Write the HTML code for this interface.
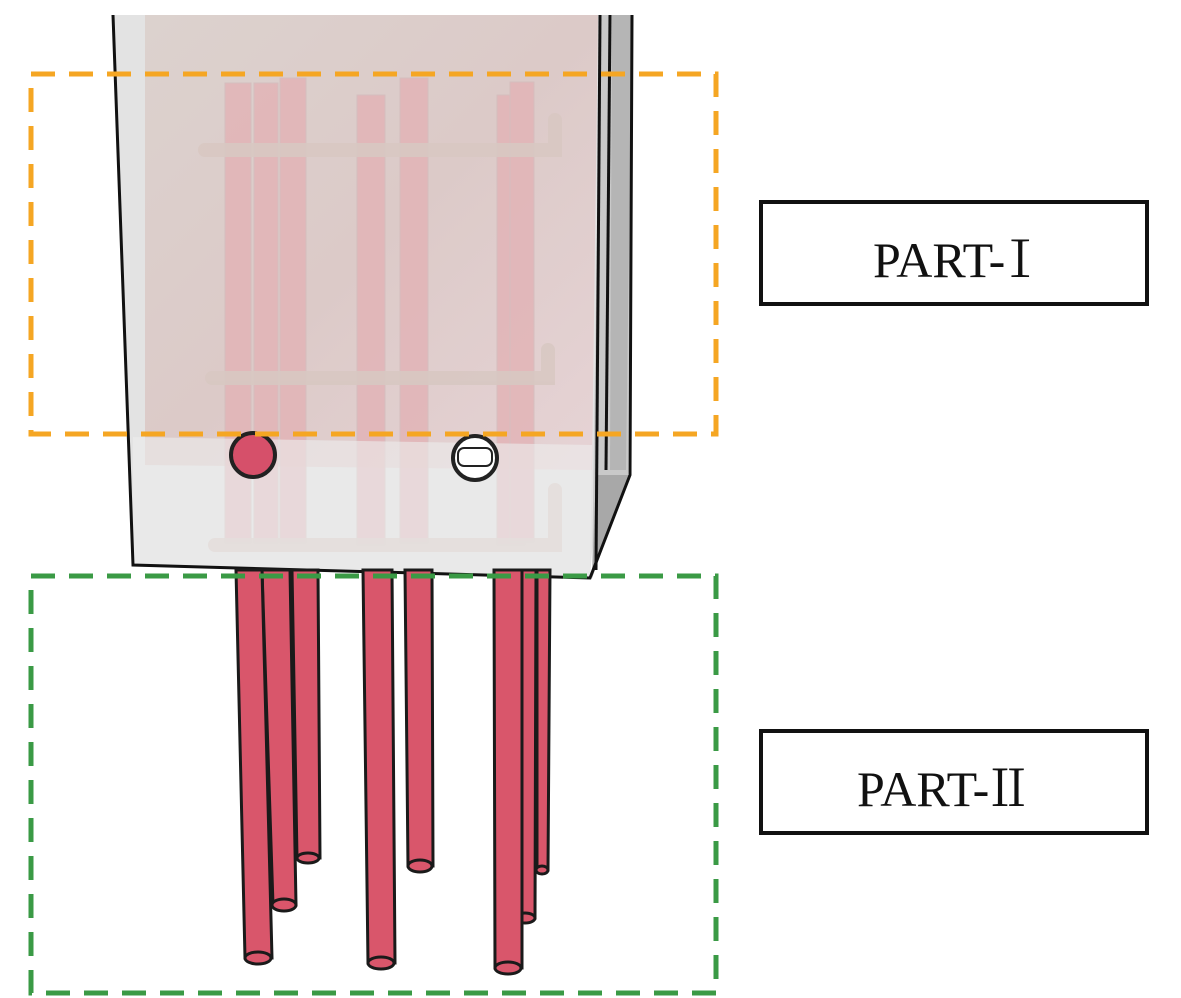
<!DOCTYPE html>
<html><head><meta charset="utf-8"><style>
html,body{margin:0;padding:0;background:#fff;width:1181px;height:998px;overflow:hidden}
</style></head><body>
<svg width="1181" height="998" viewBox="0 0 1181 998" xmlns="http://www.w3.org/2000/svg">
<defs>
<linearGradient id="pk" x1="0" y1="0" x2="1" y2="1">
<stop offset="0" stop-color="#dcd2ce"/><stop offset="0.5" stop-color="#dccac8"/><stop offset="1" stop-color="#e6d3d5"/>
</linearGradient>
</defs>
<polygon points="113,15 604,15 598,475 590,578 133,565" fill="#e3e3e3"/>
<polygon points="145,15 598,15 592,470 145,465" fill="url(#pk)"/>
<g fill="#e2b4b7" stroke="#d4bcbc" stroke-width="1" opacity="0.85">
<rect x="225" y="83" width="26" height="460"/>
<rect x="254" y="83" width="24" height="460"/>
<rect x="280" y="78" width="26" height="465"/>
<rect x="357" y="95" width="28" height="450"/>
<rect x="400" y="78" width="28" height="465"/>
<rect x="497" y="95" width="28" height="450"/>
<rect x="510" y="82" width="24" height="460"/>
</g>
<g fill="none" stroke="#d8c8c2" stroke-width="14" stroke-linecap="round" opacity="0.9">
<path d="M205,150 L555,150 L555,120"/>
<path d="M212,378 L548,378 L548,350"/>
<path d="M215,545 L555,545 L555,490"/>
</g>
<polygon points="133,437 592,445 590,578 133,565" fill="#ececec" opacity="0.6"/>
<polygon points="600,15 632,15 628,475 592,578" fill="#c9c9c9"/>
<polygon points="612,15 632,15 626,470 610,470" fill="#b5b5b5"/>
<polygon points="596,475 630,475 592,578" fill="#a8a8a8"/>
<g fill="none" stroke="#111" stroke-width="3">
<polyline points="113,15 133,565 590,578 630,475 632,15"/>
<line x1="600" y1="15" x2="596" y2="570"/>
<line x1="610" y1="15" x2="606" y2="470"/>
</g>
<circle cx="253" cy="455" r="22" fill="#d6506a" stroke="#222" stroke-width="4"/>
<circle cx="475" cy="458" r="22" fill="#fff" stroke="#222" stroke-width="4"/>
<rect x="458" y="448" width="34" height="18" rx="6" fill="#fff" stroke="#222" stroke-width="2"/>
<g fill="#d9566b" stroke="#1a1a1a" stroke-width="3">
<polygon points="537,570 550,570 548,870 537,870"/>
<ellipse cx="542" cy="870" rx="6" ry="4"/>
<polygon points="520,570 536,570 535,918 515,918"/>
<ellipse cx="525" cy="918" rx="10" ry="5"/>
<polygon points="292,570 318,570 320,858 297,858"/>
<ellipse cx="308" cy="858" rx="11" ry="5"/>
<polygon points="262,570 290,570 296,905 273,905"/>
<ellipse cx="284" cy="905" rx="12" ry="6"/>
<polygon points="236,570 262,570 272,958 245,958"/>
<ellipse cx="258" cy="958" rx="13" ry="6"/>
<polygon points="363,570 392,570 395,963 368,963"/>
<ellipse cx="381" cy="963" rx="13" ry="6"/>
<polygon points="405,570 432,570 433,866 408,866"/>
<ellipse cx="420" cy="866" rx="12" ry="6"/>
<polygon points="494,570 522,570 522,968 495,968"/>
<ellipse cx="508" cy="968" rx="13" ry="6"/>
</g>
<rect x="31" y="74" width="685" height="360" fill="none" stroke="#f5a623" stroke-width="5" stroke-dasharray="24 14"/>
<rect x="31" y="576" width="685" height="417" fill="none" stroke="#3a9a45" stroke-width="5" stroke-dasharray="24 14"/>
<rect x="761" y="202" width="386" height="102" fill="#fff" stroke="#111" stroke-width="4"/>
<text x="873" y="277" font-family="'Liberation Serif','Noto Serif CJK SC',serif" font-size="50" fill="#111">PART-<tspan dx="-10" font-family="'Noto Serif CJK SC',serif">Ⅰ</tspan></text>
<rect x="761" y="731" width="386" height="102" fill="#fff" stroke="#111" stroke-width="4"/>
<text x="857" y="806" font-family="'Liberation Serif','Noto Serif CJK SC',serif" font-size="50" fill="#111">PART-<tspan dx="-6" font-family="'Noto Serif CJK SC',serif">Ⅱ</tspan></text>
</svg>
</body></html>
